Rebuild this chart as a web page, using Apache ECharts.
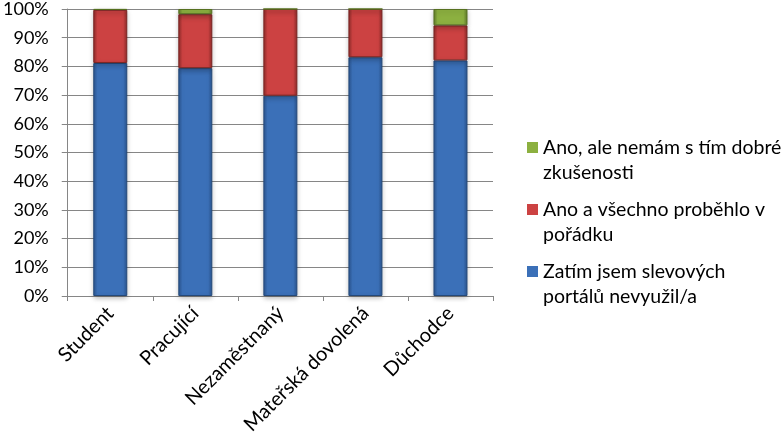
<!DOCTYPE html>
<html><head><meta charset="utf-8">
<script src="https://cdn.jsdelivr.net/npm/echarts@6/dist/echarts.min.js"></script>
<style>html,body{margin:0;padding:0;background:#fff}#c{width:784px;height:438px}</style>
</head><body><div id="c"></div>
<script>
const categories = ['Student', 'Pracující', 'Nezaměstnaný', 'Mateřská dovolená', 'Důchodce'];
const seriesNames = ['Zatím jsem slevových portálů nevyužil/a', 'Ano a všechno proběhlo v pořádku', 'Ano, ale nemám s tím dobré zkušenosti'];
const notUsed = [81.2, 79.4, 69.8, 83.2, 82.1];
const okUsed = [18.5, 18.8, 30.2, 16.8, 12.2];
const badUsed = [0.3, 1.8, 0, 0, 5.7];
const legendLabels = {
  'Zatím jsem slevových portálů nevyužil/a': 'Zatím jsem slevových\nportálů nevyužil/a',
  'Ano a všechno proběhlo v pořádku': 'Ano a všechno proběhlo v\npořádku',
  'Ano, ale nemám s tím dobré zkušenosti': 'Ano, ale nemám s tím dobré\nzkušenosti'
};

function grad(dark, mid) {
  return new echarts.graphic.LinearGradient(0,0,1,0,[
    {offset:0, color:dark},{offset:0.12, color:mid},{offset:0.88, color:mid},{offset:1, color:dark}
  ]);
}
const colors = [
  grad('#2a5590', '#3b70b8'),
  grad('#8e2a28', '#cc4242'),
  grad('#5f7a2a', '#8cb040')
];
const legendColors = ['#3b70b8','#cc4242','#8cb040'];
const borders = ['#24497a','#7a2422','#55701f'];
const dataArr = [notUsed, okUsed, badUsed];
const FONT = 'Lato, Open Sans, sans-serif';
const ICON = 'path://M0,7L11,7L11,18L0,18Z M0,0L0,0 M0,50L0,50';

const chart = echarts.init(document.getElementById('c'));
chart.setOption({
  animation: false,
  textStyle: {fontFamily: FONT},
  grid: {left: 67, right: 291, top: 8, bottom: 142},
  legend: {
    orient: 'vertical', left: 522, top: 130, itemWidth: 11, itemHeight: 50, itemGap: 12,
    icon: ICON,
    itemStyle: {borderWidth: 0},
    data: seriesNames.slice().reverse().map((n,i)=>({name:n, itemStyle:{color: legendColors[2-i], borderWidth: 0}})),
    formatter: n => legendLabels[n],
    textStyle: {fontSize: 19.5, lineHeight: 25, color: '#000', fontFamily: FONT}
  },
  xAxis: {
    type: 'category', data: categories,
    axisLine: {lineStyle: {color: '#868686'}},
    axisTick: {show: true, length: 5, lineStyle: {color: '#868686'}},
    axisLabel: {rotate: 45, fontSize: 20, color: '#000', margin: 14, interval: 0}
  },
  yAxis: {
    type: 'value', min: 0, max: 100, interval: 10,
    axisLine: {show: true, lineStyle: {color: '#868686'}},
    axisTick: {show: true, length: 6, lineStyle: {color: '#868686'}},
    splitLine: {lineStyle: {color: '#868686'}},
    axisLabel: {fontSize: 18, color: '#000', margin: 19, formatter: v => v + '%'}
  },
  series: seriesNames.map((n,i)=>({
    name: n, type: 'bar', stack: 'a', data: dataArr[i], barWidth: 34,
    itemStyle: {color: colors[i], borderColor: borders[i], borderWidth: 1,
      shadowColor: 'rgba(0,0,0,0.25)', shadowBlur: 5, shadowOffsetY: 2}
  }))
});
</script></body></html>
